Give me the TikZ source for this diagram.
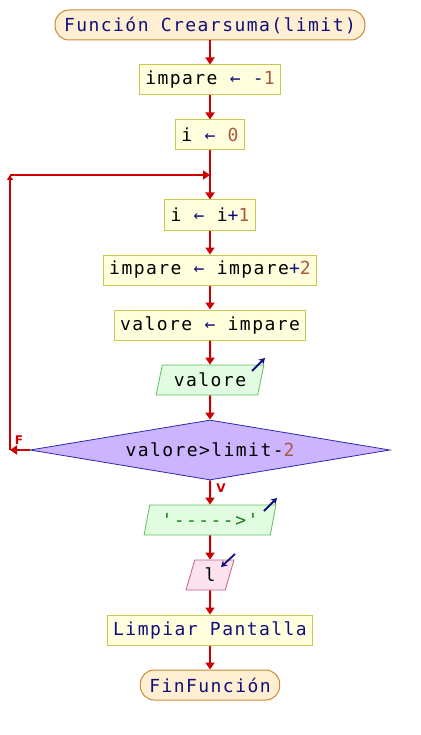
\documentclass[tikz,border=0pt]{standalone}
\usepackage{fontspec}
\usetikzlibrary{shapes.geometric,arrows.meta}
\newfontfamily\codefont[LetterSpace=8]{DejaVu Sans Mono}
\newfontfamily\labfont{DejaVu Sans}
\definecolor{flow}{HTML}{CC0000}
\definecolor{navy}{HTML}{10107A}
\definecolor{numc}{HTML}{A85A3A}
\definecolor{procfill}{HTML}{FFFFDD}
\definecolor{procdraw}{HTML}{C8C850}
\definecolor{termfill}{HTML}{FFEFD2}
\definecolor{termdraw}{HTML}{C88A35}
\definecolor{outfill}{HTML}{E2FCE2}
\definecolor{outdraw}{HTML}{60BC60}
\definecolor{infill}{HTML}{FCE2EE}
\definecolor{indraw}{HTML}{C06090}
\definecolor{decfill}{HTML}{CCB4FF}
\definecolor{decdraw}{HTML}{2A2AA8}
\definecolor{strc}{HTML}{108010}
\tikzset{
  base/.style={font=\codefont\fontsize{18}{20}\selectfont, minimum height=30pt, inner ysep=0pt},
  proc/.style={base, rectangle, draw=procdraw, fill=procfill, line width=1pt, inner xsep=6pt},
  term/.style={base, rectangle, rounded corners=14pt, draw=termdraw, fill=termfill, line width=1pt, inner xsep=9pt, text=navy},
  outp/.style={base, trapezium, trapezium left angle=70, trapezium right angle=110, trapezium stretches=true, draw=outdraw, fill=outfill, line width=0.8pt},
  inp/.style={base, trapezium, trapezium left angle=70, trapezium right angle=110, trapezium stretches=true, draw=indraw, fill=infill, line width=0.8pt},
  dec/.style={base, diamond, aspect=6, draw=decdraw, fill=decfill, line width=0.8pt, minimum width=360pt, minimum height=60pt, inner sep=0pt},
  flowline/.style={draw=flow, line width=2pt, -{Triangle[width=9pt,length=7pt]}},
  iconarrow/.style={draw=navy, line width=1.8pt, -{Stealth[width=7pt,length=6pt]}},
  lab/.style={text=flow, font=\labfont\bfseries\fontsize{12}{13}\selectfont, inner sep=0pt}
}
\newcommand{\ar}{\textcolor{navy}{←}}
\newcommand{\nm}[1]{\textcolor{numc}{#1}}
\newcommand{\op}[1]{\textcolor{navy}{#1}}
\begin{document}
\begin{tikzpicture}[x=1pt,y=-1pt]
\useasboundingbox (0,0) rectangle (420,735);
\node[term] (start) at (210,25) {Función Crearsuma(limit)};
\node[proc] (a1) at (210,80) {impare \ar{} \op{-}\nm{1}};
\node[proc] (a2) at (210,135) {i \ar{} \nm{0}};
\node[proc] (a3) at (210,215) {i \ar{} i\op{+}\nm{1}};
\node[proc] (a4) at (210,270) {impare \ar{} impare\op{+}\nm{2}};
\node[proc] (a5) at (210,325) {valore \ar{} impare};
\node[outp, minimum width=108pt] (o1) at (210,380) {valore};
\node[dec] (d) at (210,450) {valore>limit-\nm{2}};
\node[outp, minimum width=132pt] (o2) at (210,520) {\textcolor{strc}{'----->'}};
\node[inp, minimum width=48pt] (in1) at (210,575) {l};
\node[proc, text=navy] (a6) at (210,630) {Limpiar Pantalla};
\node[term] (fin) at (210,685) {FinFunción};
\coordinate (cF) at (10,450);
\coordinate (cT) at (10,175);
\coordinate (cJ) at (210,175);
\draw[flowline] (start.south) -- (a1.north);
\draw[flowline] (a1.south) -- (a2.north);
\draw[flowline] (a2.south) -- (a3.north);
\draw[flowline] (a3.south) -- (a4.north);
\draw[flowline] (a4.south) -- (a5.north);
\draw[flowline] (a5.south) -- (o1.north);
\draw[flowline] (o1.south) -- (d.north);
\draw[flowline] (d.south) -- (o2.north);
\draw[flowline] (o2.south) -- (in1.north);
\draw[flowline] (in1.south) -- (a6.north);
\draw[flowline] (a6.south) -- (fin.north);
\draw[flowline] (d.west) -- (cF);
\draw[flowline, -{Triangle[width=6pt,length=5pt]}] (cF) -- (cT);
\draw[flowline] (cT) -- (cJ);
\node[lab] (lF) at (19,440) {F};
\node[lab] (lV) at (221,488) {V};
\coordinate (i1s) at (252,371); \coordinate (i1e) at (265,358);
\coordinate (i2s) at (264,511); \coordinate (i2e) at (277,498);
\coordinate (i3s) at (235,554); \coordinate (i3e) at (221,567);
\draw[iconarrow] (i1s) -- (i1e);
\draw[iconarrow] (i2s) -- (i2e);
\draw[iconarrow] (i3s) -- (i3e);
\end{tikzpicture}
\end{document}
